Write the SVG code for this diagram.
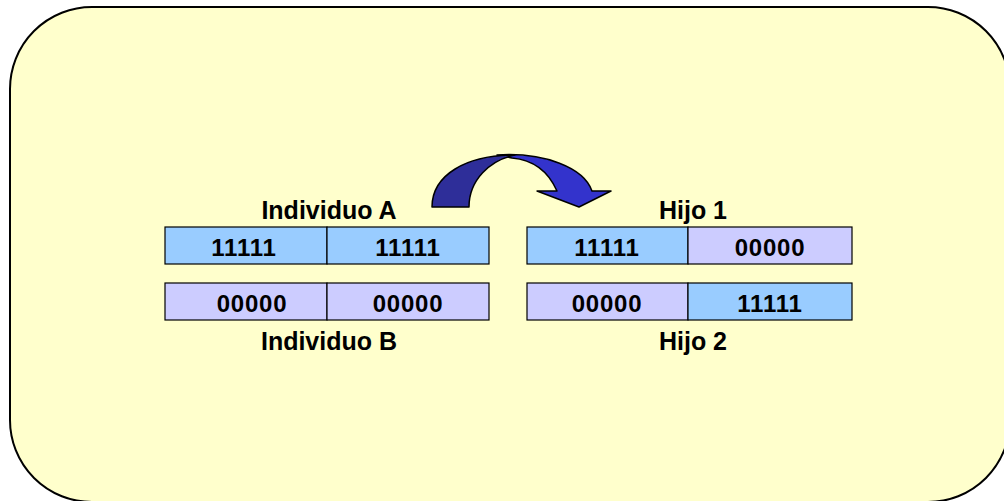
<svg xmlns="http://www.w3.org/2000/svg" width="1004" height="501" viewBox="0 0 1004 501">
  <style>
    .cell { stroke: #000; stroke-width: 1.2; }
    .one { fill: #99CCFF; }
    .zero { fill: #CCCCFF; }
    .bits { font-family: "Liberation Sans", Arial, sans-serif; font-weight: bold; font-size: 24px; letter-spacing: 0.8px; text-anchor: middle; fill: #000; }
    .label { font-family: "Liberation Sans", Arial, sans-serif; font-weight: bold; font-size: 25px; text-anchor: middle; fill: #000; }
    .arrow { stroke: #000; stroke-width: 1.5; stroke-linejoin: round; }
  </style>

  <!-- panel -->
  <rect x="10" y="7" width="1000" height="495" rx="82" ry="82" fill="#FFFFCC" stroke="#000" stroke-width="2"/>

  <!-- crossover arrow -->
  <g id="connectors">
    <path class="arrow" fill="#3333CC" d="M497,155 C545,152 584,168 592,191 L611,191 L579,207 L537,191 L557,191 C549,173 535,160 512,158 Z"/>
    <path class="arrow" fill="#2E2E99" d="M432,207 C432,175 466,155 515,155 C490,160 469,180 469,207 Z"/>
  </g>

  <g id="individuo-a">
    <rect class="cell one" x="165" y="227" width="162" height="37"/>
    <rect class="cell one" x="327" y="227" width="162" height="37"/>
    <text class="bits" x="244" y="256">11111</text>
    <text class="bits" x="408" y="256">11111</text>
    <text class="label" x="329" y="219">Individuo A</text>
  </g>

  <g id="individuo-b">
    <rect class="cell zero" x="165" y="283" width="162" height="37"/>
    <rect class="cell zero" x="327" y="283" width="162" height="37"/>
    <text class="bits" x="252" y="312">00000</text>
    <text class="bits" x="408" y="312">00000</text>
    <text class="label" x="329" y="350">Individuo B</text>
  </g>

  <g id="hijo-1">
    <rect class="cell one" x="527" y="227" width="161" height="37"/>
    <rect class="cell zero" x="688" y="227" width="164" height="37"/>
    <text class="bits" x="607" y="256">11111</text>
    <text class="bits" x="770" y="256">00000</text>
    <text class="label" x="693" y="219">Hijo 1</text>
  </g>

  <g id="hijo-2">
    <rect class="cell zero" x="527" y="283" width="161" height="37"/>
    <rect class="cell one" x="688" y="283" width="164" height="37"/>
    <text class="bits" x="607" y="312">00000</text>
    <text class="bits" x="770" y="312">11111</text>
    <text class="label" x="693" y="350">Hijo 2</text>
  </g>
</svg>
